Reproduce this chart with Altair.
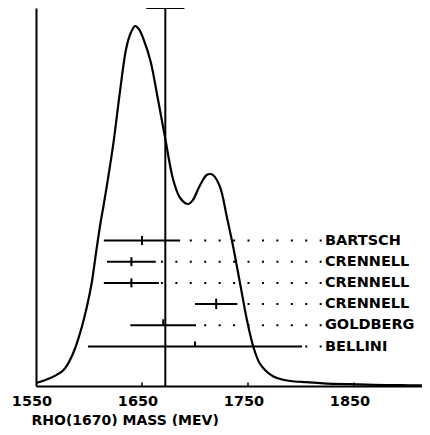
import altair as alt
import pandas as pd

# ---- data ----
curve_mass = [1550, 1563, 1576, 1585, 1591.5, 1598, 1602.5, 1607, 1611, 1614, 1623, 1629, 1635,
              1639, 1643.5, 1647, 1651, 1658, 1665, 1672, 1679.5, 1686, 1693.5, 1698, 1703,
              1708, 1711, 1714, 1717, 1723.5, 1730, 1736, 1742.5, 1749, 1755, 1761, 1767, 1774, 1782,
              1790, 1805, 1821, 1845, 1868, 1895, 1914]
curve_height = [3, 7.7, 16, 32.7, 52.7, 79.3, 102.7, 136, 164, 182, 242.7, 292.7, 337,
                352, 360, 357, 348, 325, 287, 247, 206, 188, 182, 186, 197,
                207, 211, 212, 211, 199.3, 169.3, 139.3, 102.7, 66, 39.3, 22.7, 15, 9.5, 6.5,
                5, 3.8, 2.7, 1.8, 1.2, 0.8, 0.6]

names = ["BARTSCH", "CRENNELL", "CRENNELL", "CRENNELL", "GOLDBERG", "BELLINI"]
values = [1650, 1640, 1640, 1720, 1670, 1700]
errors = [36, 23, 26, 20, 31, 101]

mean_value = 1672
mean_error = 18

tick_values = [1550, 1650, 1750, 1850]

# ---- layout ----
W, H = 386, 378
X0, X1 = 1550, 1550 + W / 1.06
xs = alt.Scale(domain=[X0, X1], nice=False, zero=False)
ys = alt.Scale(domain=[0, H], nice=False, zero=False)
FONT = "DejaVu Sans"

curve = pd.DataFrame({"mass": curve_mass, "h": curve_height})

rows = pd.DataFrame({"name": names, "value": values, "err": errors})
rows["i"] = range(len(rows))
rows["y"] = 145.5 - 21.2 * rows["i"]
rows["lo"] = rows["value"] - rows["err"]
rows["hi"] = rows["value"] + rows["err"]
rows["t_lo"] = rows["y"] + [-4.5, -4.5, -4.5, -5, 0, 0]
rows["t_hi"] = rows["y"] + [4.5, 4.5, 4.5, 5.5, 6, 5]
rows["dot_end"] = 1819.5
rows["lab_x"] = 1822.6

xaxis = alt.Axis(values=tick_values, format="d", ticks=False, grid=False, domainColor="black", domainWidth=2,
                 labelFont=FONT, labelFontWeight="bold", labelFontSize=14.5, labelColor="black",
                 labelPadding=8, labelOffset=-4.5, labelFlush=False,
                 title="RHO(1670) MASS (MEV)", titleFont=FONT, titleFontWeight="bold",
                 titleFontSize=14, titleColor="black", titleAlign="left", titleBaseline="alphabetic",
                 titleX=-5, titleY=38, titleAnchor="start")
yaxis = alt.Axis(labels=False, ticks=False, grid=False, title=None, domainColor="black", domainWidth=2)

line = alt.Chart(curve).mark_line(color="black", strokeWidth=2.2, interpolate="catmull-rom").encode(
    x=alt.X("mass:Q", scale=xs, axis=xaxis),
    y=alt.Y("h:Q", scale=ys, axis=yaxis),
)

ticks_df = pd.DataFrame({"t": tick_values[1:]})
ticks = alt.Chart(ticks_df).mark_rule(color="black", strokeWidth=1.5).encode(
    x=alt.X("t:Q", scale=xs), y=alt.datum(0), y2=alt.datum(3.5)
)

mean_df = pd.DataFrame({"m": [mean_value], "lo": [mean_value - mean_error], "hi": [mean_value + mean_error]})
mean_line = alt.Chart(mean_df).mark_rule(color="black", strokeWidth=2).encode(
    x=alt.X("m:Q", scale=xs), y=alt.datum(0), y2=alt.datum(H)
)
mean_cap = alt.Chart(mean_df).mark_rule(color="black", strokeWidth=2).encode(
    x=alt.X("lo:Q", scale=xs), x2="hi:Q", y=alt.datum(H)
)

bars = alt.Chart(rows).mark_rule(color="black", strokeWidth=2).encode(
    x=alt.X("lo:Q", scale=xs), x2="hi:Q", y=alt.Y("y:Q", scale=ys)
)
centers = alt.Chart(rows).mark_rule(color="black", strokeWidth=2).encode(
    x=alt.X("value:Q", scale=xs), y=alt.Y("t_lo:Q", scale=ys), y2="t_hi:Q"
)
dots = alt.Chart(rows).mark_rule(color="black", strokeWidth=2, strokeDash=[2, 12.43], strokeCap="butt").encode(
    x=alt.X("dot_end:Q", scale=xs), x2="hi:Q", y=alt.Y("y:Q", scale=ys)
)
labels = alt.Chart(rows).mark_text(align="left", baseline="middle", font=FONT, fontWeight="bold",
                                   fontSize=14.5, color="black").encode(
    x=alt.X("lab_x:Q", scale=xs), y=alt.Y("y:Q", scale=ys), text="name:N"
)

chart = alt.layer(line, ticks, mean_line, mean_cap, bars, centers, dots, labels).properties(
    width=W, height=H, autosize="none",
    padding={"left": 28, "top": 0, "right": 0, "bottom": 40},
    background="white",
).configure_view(stroke=None)

chart.save("out.html", embed_options={"renderer": "svg", "actions": False})
